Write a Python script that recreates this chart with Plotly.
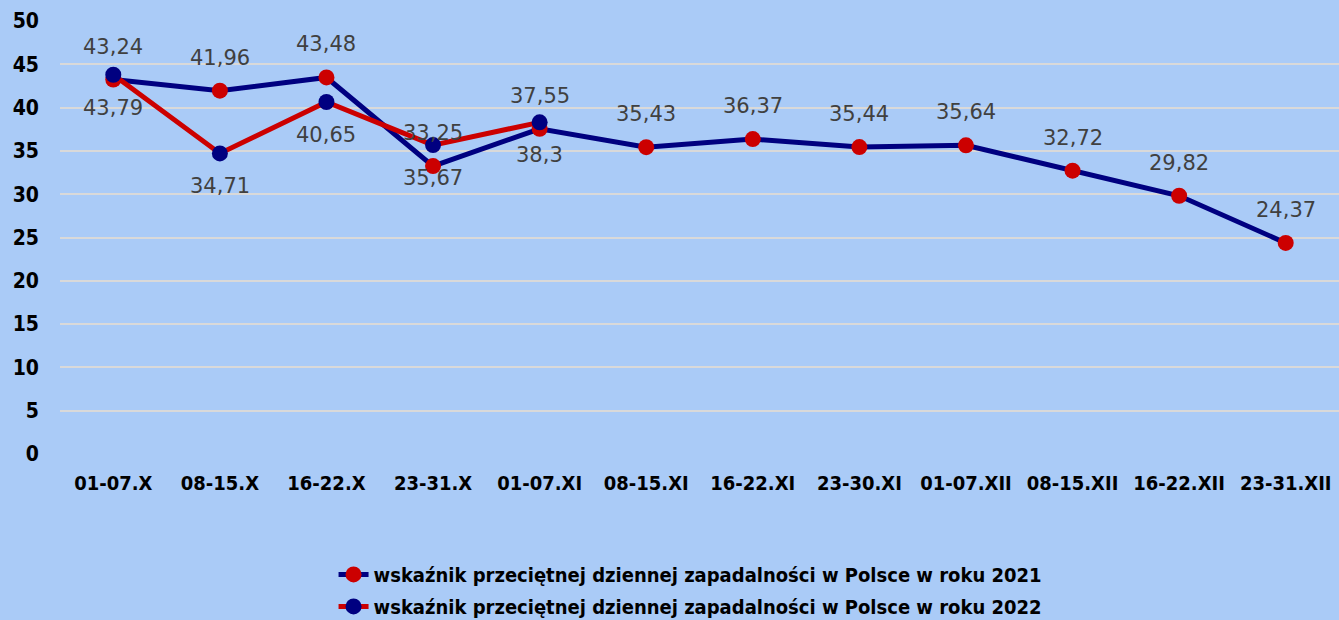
import plotly.graph_objects as go

categories = ["01-07.X", "08-15.X", "16-22.X", "23-31.X", "01-07.XI", "08-15.XI",
              "16-22.XI", "23-30.XI", "01-07.XII", "08-15.XII", "16-22.XII", "23-31.XII"]
values_2021 = [43.24, 41.96, 43.48, 33.25, 37.55, 35.43, 36.37, 35.44, 35.64, 32.72, 29.82, 24.37]
values_2022 = [43.79, 34.71, 40.65, 35.67, 38.3]
name_2021 = "wskaźnik przeciętnej dziennej zapadalności w Polsce w roku 2021"
name_2022 = "wskaźnik przeciętnej dziennej zapadalności w Polsce w roku 2022"
y_ticks = [0, 5, 10, 15, 20, 25, 30, 35, 40, 45, 50]

NAVY = "#000080"
RED = "#CC0000"
BG = "#AACBF7"

def fmt(v):
    s = f"{v:.2f}".rstrip("0").rstrip(".")
    return s.replace(".", ",")

fig = go.Figure()
fig.add_trace(go.Scatter(
    x=categories, y=values_2021, name=name_2021, mode="lines+markers",
    line=dict(color=NAVY, width=5), marker=dict(color=RED, size=16),
    legendgroup="a"))
fig.add_trace(go.Scatter(
    x=categories[:len(values_2022)], y=values_2022, name=name_2022, mode="lines+markers",
    line=dict(color=RED, width=5), marker=dict(color=NAVY, size=16),
    legendgroup="b"))

label_font = dict(family="DejaVu Sans", size=21, color="#404040")
annotations = []
for c, v in zip(categories, values_2021):
    annotations.append(dict(x=c, y=v, text=fmt(v), showarrow=False, yshift=33, font=label_font))
for c, v in zip(categories, values_2022):
    annotations.append(dict(x=c, y=v, text=fmt(v), showarrow=False, yshift=-33, font=label_font))

fig.update_layout(
    width=1339, height=620,
    paper_bgcolor=BG, plot_bgcolor=BG,
    margin=dict(l=60, r=0, t=21, b=166, autoexpand=False),
    annotations=annotations,
    showlegend=True,
    legend=dict(orientation="v", x=0.493, xanchor="center", y=-0.233, yanchor="top",
                bgcolor="rgba(0,0,0,0)", traceorder="grouped", tracegroupgap=3,
                font=dict(family="DejaVu Sans Condensed", size=20, color="#000000", weight="bold")),
    xaxis=dict(type="category", range=[-0.5, 11.5], showgrid=False, zeroline=False,
               showline=False, ticks="", ticklabelstandoff=15,
               tickfont=dict(family="DejaVu Sans Condensed", size=20, color="#000000", weight="bold")),
    yaxis=dict(range=[0, 50], tickvals=y_ticks, showgrid=True, gridcolor="#D9D9D9",
               gridwidth=2, zeroline=False, showline=False, ticks="", ticklabelstandoff=20,
               tickfont=dict(family="DejaVu Sans Condensed", size=21, color="#000000", weight="bold")),
)

fig.write_html("out.html", config={"displayModeBar": False},
               post_script="document.body.style.margin='0';document.body.style.background='" + BG + "';document.body.style.overflow='hidden';")
